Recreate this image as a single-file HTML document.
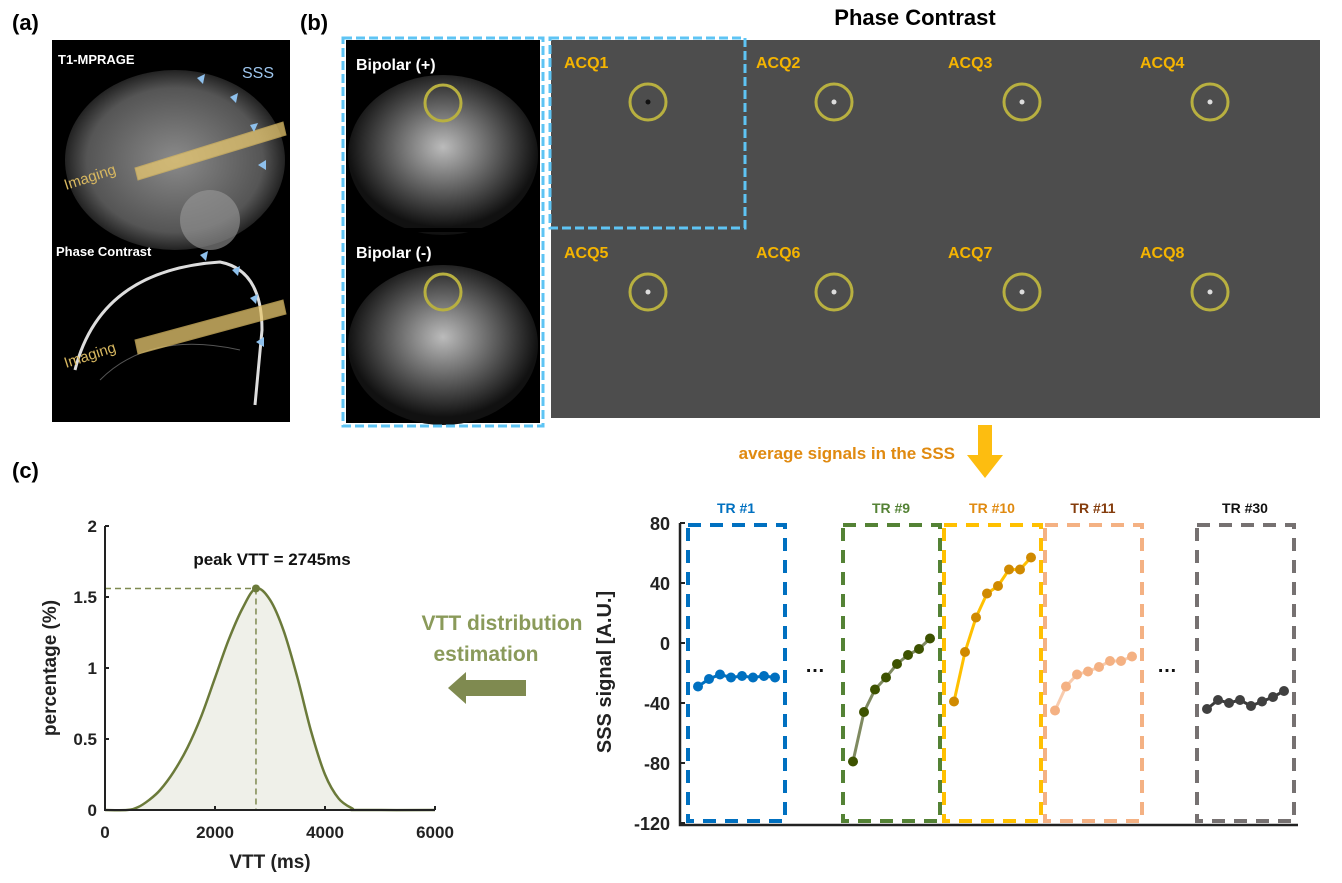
<!DOCTYPE html>
<html><head><meta charset="utf-8"><style>
body{margin:0;background:#fff;width:1342px;height:878px;overflow:hidden;font-family:"Liberation Sans",sans-serif}
svg text{font-family:"Liberation Sans",sans-serif}
</style></head><body>
<svg id="fig" width="1342" height="878" viewBox="0 0 1342 878" xmlns="http://www.w3.org/2000/svg">
<defs>
<radialGradient id="brain" cx="0.5" cy="0.5" r="0.5"><stop offset="0" stop-color="#8a8a8a"/><stop offset="0.8" stop-color="#555"/><stop offset="1" stop-color="#222"/></radialGradient>
<radialGradient id="wm" cx="0.5" cy="0.45" r="0.5"><stop offset="0" stop-color="#bbb"/><stop offset="0.5" stop-color="#666"/><stop offset="1" stop-color="#111"/></radialGradient>
</defs>
<text x="12" y="30" font-size="22" font-weight="bold">(a)</text>
<text x="300" y="30" font-size="22" font-weight="bold">(b)</text>
<text x="12" y="478" font-size="22" font-weight="bold">(c)</text>

<g>
<rect x="52" y="40" width="238" height="382" fill="#000"/>
<ellipse cx="175" cy="160" rx="110" ry="90" fill="url(#brain)"/>
<ellipse cx="210" cy="220" rx="30" ry="30" fill="#999" opacity="0.6"/>
<path d="M75 370 Q100 270 220 262 Q262 270 262 330 L255 405" fill="none" stroke="#ddd" stroke-width="3"/>
<path d="M100 380 Q150 330 240 350" fill="none" stroke="#555" stroke-width="1"/>
<polygon points="135,168 283,122 286,135 138,180" fill="#e8c870" opacity="0.75" stroke="#d8b860"/>
<polygon points="135,340 283,300 286,314 138,354" fill="#e8c870" opacity="0.75" stroke="#d8b860"/>
<text x="58" y="64" font-size="13" font-weight="bold" fill="#fff">T1-MPRAGE</text>
<text x="242" y="78" font-size="16" fill="#9ec6ee">SSS</text>
<text x="56" y="256" font-size="13" font-weight="bold" fill="#fff">Phase Contrast</text>
<text x="66" y="190" font-size="15" fill="#d8b860" transform="rotate(-18 66 190)">Imaging</text>
<text x="66" y="368" font-size="15" fill="#d8b860" transform="rotate(-18 66 368)">Imaging</text>
<g fill="#8ec0ec"><path d="M197 78 l8 -4 l-2 10z"/><path d="M230 97 l8 -4 l-2 10z"/><path d="M250 125 l8 -2 l-4 9z"/><path d="M258 165 l8 -5 l0 10z"/>
<path d="M200 255 l8 -4 l-2 10z"/><path d="M232 270 l8 -4 l-2 10z"/><path d="M250 298 l8 -4 l-2 10z"/><path d="M256 342 l8 -5 l0 10z"/></g>
</g>

<g>
<rect x="346" y="40" width="194" height="383" fill="#000"/>
<ellipse cx="443" cy="155" rx="95" ry="80" fill="url(#wm)"/>
<ellipse cx="443" cy="345" rx="95" ry="80" fill="url(#wm)"/>
<rect x="346" y="228" width="194" height="4" fill="#000"/>
<circle cx="443" cy="103" r="18" fill="none" stroke="#b8b040" stroke-width="3"/>
<circle cx="443" cy="292" r="18" fill="none" stroke="#b8b040" stroke-width="3"/>
<text x="356" y="70" font-size="16" font-weight="bold" fill="#fff">Bipolar (+)</text>
<text x="356" y="258" font-size="16" font-weight="bold" fill="#fff">Bipolar (-)</text>
<rect x="343" y="38" width="200" height="388" fill="none" stroke="#5ec4f4" stroke-width="3" stroke-dasharray="9 4"/>
</g>

<text x="915" y="25" font-size="22" font-weight="bold" text-anchor="middle">Phase Contrast</text>
<g id="acq">
<rect x="551" y="40" width="769" height="378" fill="#4d4d4d"/>
<rect x="550" y="38" width="195" height="190" fill="none" stroke="#5ec4f4" stroke-width="3" stroke-dasharray="9 4"/>
</g>
<text x="955" y="459" font-size="17" font-weight="bold" fill="#e08a10" text-anchor="end">average signals in the SSS</text>
<polygon points="978,425 992,425 992,455 1003,455 985,478 967,455 978,455" fill="#fdbd10"/>

<g id="left"></g>
<text x="502" y="630" font-size="21" font-weight="bold" fill="#8a9a5a" text-anchor="middle">VTT distribution</text>
<text x="486" y="661" font-size="21" font-weight="bold" fill="#8a9a5a" text-anchor="middle">estimation</text>
<polygon points="526,680 466,680 466,672 448,688 466,704 466,696 526,696" fill="#7f8a50"/>

<g id="right"></g>
</svg>
<script>
const NS='http://www.w3.org/2000/svg';
function mk(tag,attrs,parent,txt){const e=document.createElementNS(NS,tag);for(const k in attrs)e.setAttribute(k,attrs[k]);if(txt!==undefined)e.textContent=txt;parent.appendChild(e);return e;}

const acqLabels=['ACQ1','ACQ2','ACQ3','ACQ4','ACQ5','ACQ6','ACQ7','ACQ8'];
const acq=document.getElementById('acq');
acqLabels.forEach((l,i)=>{
  const cx=i%4, cy=Math.floor(i/4);
  const x0=551+cx*192, y0=40+cy*190;
  const t=mk('text',{x:x0+13,y:y0+28,'font-size':16,'font-weight':'bold',fill:'#f5b400'},acq,l);
  
  
  const ccx=[648,834,1022,1210][cx];
  const c=mk('circle',{cx:ccx,cy:y0+62,r:18,fill:'none',stroke:'#b8b040','stroke-width':3},acq);
  
  
  mk('circle',{cx:ccx,cy:y0+62,r:2.5,fill:i==0?'#111':'#ddd'},acq);
});

const vttX=[0,400,600,800,1000,1250,1500,1750,2000,2250,2500,2745,3000,3250,3500,3750,4000,4250,4500,4600,6000];
const vttY=[0,0,0.02,0.07,0.14,0.27,0.44,0.66,0.93,1.2,1.42,1.56,1.48,1.26,0.93,0.55,0.25,0.08,0.01,0,0];
const leftXTicks=[0,2000,4000,6000];
const leftYTicks=[0,0.5,1,1.5,2];
const peakX=2745, peakY=1.56;
const L=document.getElementById('left');
const lx=v=>105+v/6000*330, ly=v=>810-v/2*284;
function smooth(xs,ys,fx,fy){let d='M'+fx(xs[0])+' '+fy(ys[0]);for(let i=0;i<xs.length-1;i++){const p0=[fx(xs[Math.max(0,i-1)]),fy(ys[Math.max(0,i-1)])],p1=[fx(xs[i]),fy(ys[i])],p2=[fx(xs[i+1]),fy(ys[i+1])],p3=[fx(xs[Math.min(xs.length-1,i+2)]),fy(ys[Math.min(xs.length-1,i+2)])];
const c1=[p1[0]+(p2[0]-p0[0])/6,p1[1]+(p2[1]-p0[1])/6],c2=[p2[0]-(p3[0]-p1[0])/6,p2[1]-(p3[1]-p1[1])/6];d+=` C${c1[0]} ${c1[1]} ${c2[0]} ${c2[1]} ${p2[0]} ${p2[1]}`;}return d;}
const cd=smooth(vttX,vttY,lx,ly);
let e=mk('path',{d:cd+` L${lx(6000)} ${ly(0)} L${lx(0)} ${ly(0)}Z`,fill:'#eff0e9'},L);


e=mk('line',{x1:lx(0),y1:ly(peakY),x2:lx(peakX),y2:ly(peakY),stroke:'#7f8a50','stroke-width':1.5,'stroke-dasharray':'6 4'},L);


e=mk('line',{x1:lx(peakX),y1:ly(peakY),x2:lx(peakX),y2:ly(0),stroke:'#7f8a50','stroke-width':1.5,'stroke-dasharray':'6 4'},L);


e=mk('path',{d:cd,fill:'none',stroke:'#6b7a3a','stroke-width':2.5},L);


e=mk('circle',{cx:lx(peakX),cy:ly(peakY),r:4,fill:'#6b7a3a'},L);


mk('path',{d:`M${lx(0)} ${ly(2)} V${ly(0)} H${lx(6000)}`,fill:'none',stroke:'#222','stroke-width':2},L);
leftXTicks.forEach(v=>{mk('line',{x1:lx(v),y1:ly(0),x2:lx(v),y2:ly(0)-4,stroke:'#222','stroke-width':2},L);
 const t=mk('text',{x:lx(v),y:838,'font-size':17,'font-weight':'bold','text-anchor':'middle',fill:'#222'},L,String(v));
 
 });
leftYTicks.forEach(v=>{mk('line',{x1:lx(0),y1:ly(v),x2:lx(0)+4,y2:ly(v),stroke:'#222','stroke-width':2},L);
 const t=mk('text',{x:97,y:ly(v)+6,'font-size':17,'font-weight':'bold','text-anchor':'end',fill:'#222'},L,String(v));
 
 });
e=mk('text',{x:270,y:868,'font-size':19,'font-weight':'bold','text-anchor':'middle',fill:'#222'},L,'VTT (ms)');


e=mk('text',{x:0,y:0,'font-size':19,'font-weight':'bold','text-anchor':'middle',fill:'#222',transform:'translate(56 668) rotate(-90)'},L,'percentage (%)');


e=mk('text',{x:272,y:565,'font-size':17,'font-weight':'bold','text-anchor':'middle',fill:'#111'},L,'peak VTT = 2745ms');



const trLabels=['TR #1','TR #9','TR #10','TR #11','TR #30'];
const tr1=[-29,-24,-21,-23,-22,-23,-22,-23];
const tr9=[-79,-46,-31,-23,-14,-8,-4,3];
const tr10=[-39,-6,17,33,38,49,49,57];
const tr11=[-45,-29,-21,-19,-16,-12,-12,-9];
const tr30=[-44,-38,-40,-38,-42,-39,-36,-32];
const rightYTicks=[80,40,0,-40,-80,-120];
const series=[tr1,tr9,tr10,tr11,tr30];
const boxL=[688,843,944,1045,1197];
const boxColors=['#0070c0','#548235','#ffc000','#f4b183','#767171'];
const labelColors=['#0070c0','#548235','#e08a10','#843c0c','#111'];
const lineColors=['#0070c0','#7f8a60','#ffc000','#f8cbad','#3a3a3a'];
const markColors=['#0070c0','#3d5200','#d08a00','#f4b183','#404040'];
const R=document.getElementById('right');
const ry=v=>823-(v+120)*1.5;
mk('path',{d:`M680 ${ry(80)} V${ry(-120)+2} H1298`,fill:'none',stroke:'#222','stroke-width':2.5},R);
rightYTicks.forEach(v=>{mk('line',{x1:680,y1:ry(v),x2:685,y2:ry(v),stroke:'#222','stroke-width':2},R);
 const t=mk('text',{x:670,y:ry(v)+7,'font-size':18,'font-weight':'bold','text-anchor':'end',fill:'#222'},R,String(v));
 
 });
e=mk('text',{x:0,y:0,'font-size':20,'font-weight':'bold','text-anchor':'middle',fill:'#222',transform:'translate(611 672) rotate(-90)'},R,'SSS signal [A.U.]');


series.forEach((s,k)=>{
 const x0=boxL[k];
 const b=mk('rect',{x:x0,y:ry(80)+2,width:97,height:ry(-120)-ry(80)-4,fill:'none',stroke:boxColors[k],'stroke-width':4,'stroke-dasharray':'13 9'},R);
 
 
 const t=mk('text',{x:x0+48,y:513,'font-size':14,'font-weight':'bold','text-anchor':'middle',fill:labelColors[k]},R,trLabels[k]);
 
 
 const px=i=>x0+10+i*11;
 const p=mk('polyline',{points:s.map((v,i)=>px(i)+','+ry(v)).join(' '),fill:'none',stroke:lineColors[k],'stroke-width':3},R);
 
 
 s.forEach((v,i)=>{const c=mk('circle',{cx:px(i),cy:ry(v),r:5,fill:markColors[k]},R);
  
  });
});
[815,1167].forEach(x=>{const t=mk('text',{x:x,y:672,'font-size':20,'font-weight':'bold','text-anchor':'middle',fill:'#111'},R,'…');
 
 });
</script>
</body></html>
